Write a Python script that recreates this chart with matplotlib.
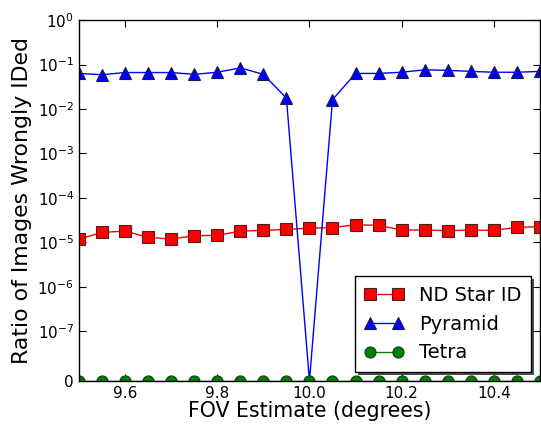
import matplotlib
matplotlib.use("Agg")
import matplotlib.pyplot as plt
from matplotlib.ticker import FixedLocator, NullLocator

fov = [9.5, 9.55, 9.6, 9.65, 9.7, 9.75, 9.8, 9.85, 9.9, 9.95, 10.0,
       10.05, 10.1, 10.15, 10.2, 10.25, 10.3, 10.35, 10.4, 10.45, 10.5]
nd_star_id = [1.19e-5, 1.68e-5, 1.8e-5, 1.3e-5, 1.19e-5, 1.42e-5, 1.44e-5, 1.8e-5,
              1.87e-5, 1.96e-5, 2.1e-5, 2.15e-5, 2.5e-5, 2.42e-5, 1.9e-5, 1.9e-5,
              1.84e-5, 1.9e-5, 1.87e-5, 2.18e-5, 2.26e-5]
pyramid = [0.063, 0.059, 0.066, 0.066, 0.066, 0.060, 0.067, 0.084, 0.060, 0.0176, 0.0,
           0.0162, 0.063, 0.063, 0.067, 0.076, 0.074, 0.070, 0.067, 0.067, 0.070]
tetra = [0.0] * 21

yticks = [0, 1e-7, 1e-6, 1e-5, 1e-4, 1e-3, 1e-2, 1e-1, 1e0]
xticks = [9.6, 9.8, 10.0, 10.2, 10.4]

plt.rcParams['font.family'] = 'DejaVu Sans'
fig = plt.figure(figsize=(5.41, 4.26), dpi=100)
ax = fig.add_axes([0.146, 0.106, 0.852, 0.847])

ax.plot(fov, nd_star_id, color='red', marker='s', ms=8, mec='#5a1a1a', mew=0.8,
        lw=1, label='ND Star ID')
ax.plot(fov, pyramid, color='blue', marker='^', ms=8.5, mec='#1a1a4a', mew=0.8,
        lw=1, label='Pyramid')
ax.plot(fov, tetra, color='green', marker='o', ms=8, mec='#1a3a1a', mew=0.8,
        lw=1, label='Tetra')

ax.set_yscale('symlog', linthresh=1e-7, linscale=1.0)
ax.set_ylim(0, 1)
ax.set_xlim(9.5, 10.5)
ax.yaxis.set_major_locator(FixedLocator(yticks))
ax.yaxis.set_minor_locator(NullLocator())
ax.set_xticks(xticks)
ax.set_xticklabels(['9.6', '9.8', '10.0', '10.2', '10.4'])
ax.xaxis.set_minor_locator(NullLocator())

ax.tick_params(direction='in', top=True, right=True, labelsize=11, length=5, width=0.8)
ax.tick_params(axis='x', pad=4)
for s in ax.spines.values():
    s.set_linewidth(1.0)

ax.set_xlabel('FOV Estimate (degrees)', fontsize=14.8, labelpad=0)
ax.set_ylabel('Ratio of Images Wrongly IDed', fontsize=15.8, labelpad=4)

leg = ax.legend(loc='lower right', fontsize=14, numpoints=2, fancybox=False,
                shadow={'facecolor': '0.3', 'alpha': 1, 'edgecolor': 'none'},
                framealpha=1, edgecolor='black', borderaxespad=0.45,
                borderpad=0.5)
leg.get_frame().set_linewidth(1.0)

fig.savefig('out.png', dpi=100, facecolor='white')
